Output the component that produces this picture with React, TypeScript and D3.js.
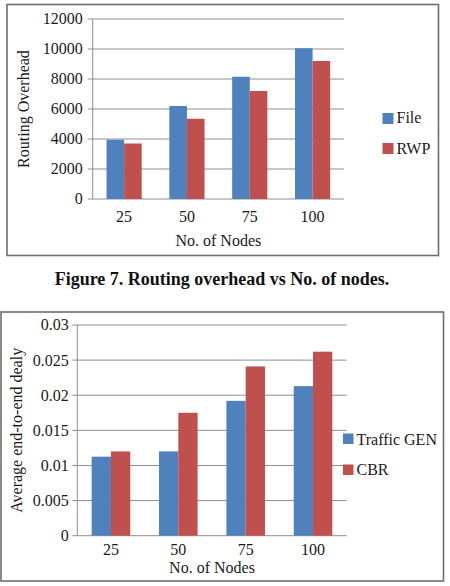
import React from "react";
import * as d3 from "d3";

// Figure 7: routing overhead
const nodeCounts = ["25", "50", "75", "100"];
const fileOverhead = [3950, 6200, 8150, 10050];
const rwpOverhead = [3700, 5350, 7200, 9200];
const overheadTicks = [0, 2000, 4000, 6000, 8000, 10000, 12000];

// Second figure: average end-to-end delay
const trafficGenDelay = [0.01125, 0.012, 0.0192, 0.0213];
const cbrDelay = [0.012, 0.0175, 0.0241, 0.0262];
const delayTicks = [0, 0.005, 0.01, 0.015, 0.02, 0.025, 0.03];

const BLUE = "#4F81BD";
const RED = "#C0504D";
const GRID = "#8e8e8e";
const FONT = "'Liberation Serif', 'Times New Roman', serif";

type Series = { name: string; values: number[]; color: string };

type ChartProps = {
  frame: { x: number; y: number; w: number; h: number };
  plot: { left: number; right: number; top: number; bottom: number };
  domain: [number, number];
  ticks: number[];
  tickFormat: (v: number) => string;
  tickLabelGap: number;
  padInner: number;
  series: Series[];
  categoryBaseline: number;
  xTitleBaseline: number;
  yTitle: string;
  yTitleX: number;
  legend: { x: number; textX: number; size: number; rows: { top: number; baseline: number }[] };
};

function GroupedBarChart(p: ChartProps) {
  const x0 = d3
    .scaleBand<string>()
    .domain(nodeCounts)
    .range([p.plot.left, p.plot.right])
    .paddingInner(p.padInner)
    .paddingOuter(p.padInner / 2);
  const x1 = d3
    .scaleBand<string>()
    .domain(p.series.map((s) => s.name))
    .range([0, x0.bandwidth()]);
  const y = d3.scaleLinear().domain(p.domain).range([p.plot.bottom, p.plot.top]);
  const plotMidY = (p.plot.top + p.plot.bottom) / 2;
  const xMid = (p.plot.left + p.plot.right) / 2;

  return (
    <g fontFamily={FONT} fill="#1a1a1a">
      <rect
        x={p.frame.x}
        y={p.frame.y}
        width={p.frame.w}
        height={p.frame.h}
        fill="#fff"
        stroke="#6e6e6e"
        strokeWidth={1.6}
      />
      {/* gridlines with tick marks */}
      {p.ticks.map((t) => (
        <g key={t}>
          <line
            x1={p.plot.left - 5}
            x2={p.plot.right}
            y1={y(t)}
            y2={y(t)}
            stroke={GRID}
            strokeWidth={1}
          />
          <text
            x={p.plot.left - 5 - p.tickLabelGap}
            y={y(t)}
            dy="0.34em"
            textAnchor="end"
            fontSize={16}
          >
            {p.tickFormat(t)}
          </text>
        </g>
      ))}
      <line
        x1={p.plot.left}
        x2={p.plot.left}
        y1={p.plot.top}
        y2={p.plot.bottom}
        stroke={GRID}
        strokeWidth={1}
      />
      {/* bars */}
      {nodeCounts.map((c, i) => (
        <g key={c} transform={`translate(${x0(c)},0)`}>
          {p.series.map((s) => (
            <rect
              key={s.name}
              x={x1(s.name)}
              y={y(s.values[i])}
              width={x1.bandwidth()}
              height={y(0) - y(s.values[i])}
              fill={s.color}
            />
          ))}
        </g>
      ))}
      {/* category labels */}
      {nodeCounts.map((c) => (
        <text
          key={c}
          x={(x0(c) as number) + x0.bandwidth() / 2}
          y={p.categoryBaseline}
          textAnchor="middle"
          fontSize={16}
        >
          {c}
        </text>
      ))}
      <text x={xMid} y={p.xTitleBaseline} textAnchor="middle" fontSize={16}>
        No. of Nodes
      </text>
      <text
        transform={`translate(${p.yTitleX},${plotMidY}) rotate(-90)`}
        textAnchor="middle"
        fontSize={16}
      >
        {p.yTitle}
      </text>
      {/* legend */}
      {p.series.map((s, i) => (
        <g key={s.name}>
          <rect
            x={p.legend.x}
            y={p.legend.rows[i].top}
            width={p.legend.size}
            height={p.legend.size}
            fill={s.color}
          />
          <text x={p.legend.textX} y={p.legend.rows[i].baseline} fontSize={16}>
            {s.name}
          </text>
        </g>
      ))}
    </g>
  );
}

export default function App() {
  return (
    <svg
      width={450}
      height={586}
      style={{ position: "absolute", left: 0, top: 0, background: "#fff" }}
    >
      <GroupedBarChart
        frame={{ x: 7, y: 4.5, w: 431.5, h: 251 }}
        plot={{ left: 92.7, right: 344, top: 19, bottom: 199 }}
        domain={[0, 12000]}
        ticks={overheadTicks}
        tickFormat={(v) => String(v)}
        tickLabelGap={5}
        padInner={0.44}
        series={[
          { name: "File", values: fileOverhead, color: BLUE },
          { name: "RWP", values: rwpOverhead, color: RED },
        ]}
        categoryBaseline={221.5}
        xTitleBaseline={245.5}
        yTitle="Routing Overhead"
        yTitleX={29}
        legend={{
          x: 382.5,
          textX: 396.5,
          size: 11,
          rows: [
            { top: 113, baseline: 123 },
            { top: 143, baseline: 153.5 },
          ],
        }}
      />
      <text
        x={222}
        y={285}
        textAnchor="middle"
        fontFamily={FONT}
        fontWeight="bold"
        fontSize={18}
        fill="#111"
      >
        Figure 7. Routing overhead vs No. of nodes.
      </text>
      <GroupedBarChart
        frame={{ x: 1, y: 312, w: 442.5, h: 269 }}
        plot={{ left: 77.3, right: 346.7, top: 325, bottom: 535.7 }}
        domain={[0, 0.03]}
        ticks={delayTicks}
        tickFormat={(v) => (v === 0 ? "0" : String(+v.toFixed(3)))}
        tickLabelGap={3.5}
        padInner={0.427}
        series={[
          { name: "Traffic GEN", values: trafficGenDelay, color: BLUE },
          { name: "CBR", values: cbrDelay, color: RED },
        ]}
        categoryBaseline={555}
        xTitleBaseline={572.5}
        yTitle="Average end-to-end dealy"
        yTitleX={22}
        legend={{
          x: 343,
          textX: 356.5,
          size: 10.5,
          rows: [
            { top: 433.5, baseline: 444.5 },
            { top: 464.5, baseline: 475 },
          ],
        }}
      />
    </svg>
  );
}
